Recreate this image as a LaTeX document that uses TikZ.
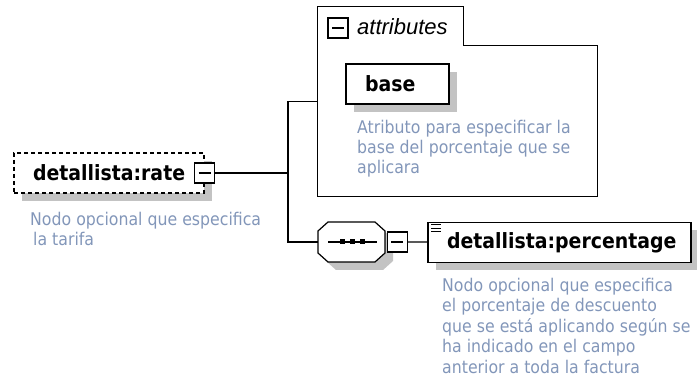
\documentclass[tikz,border=0pt]{standalone}
\usepackage{fontspec}
\newfontfamily\lblfont{DejaVu Sans}[FakeStretch=0.9]
\newfontfamily\descfont{DejaVu Sans}[FakeStretch=0.9]
\newfontfamily\attrfont{Liberation Sans}
\usetikzlibrary{positioning, shadows}
\definecolor{descblue}{RGB}{130,150,185}
\definecolor{shadowgray}{RGB}{195,195,195}

\begin{document}
\begin{tikzpicture}[x=1pt, y=-1pt,
  elbox/.style={rectangle, draw=black, line width=1.2pt, fill=white,
    minimum height=40pt, inner xsep=19pt, inner ysep=0pt, align=left,
    font=\lblfont\bfseries\fontsize{21}{25}\selectfont,
    drop shadow={shadow xshift=8pt, shadow yshift=-8pt, fill=shadowgray, opacity=1}},
  optbox/.style={elbox, dash pattern=on 4pt off 3pt},
  ctlbox/.style={rectangle, draw=black, line width=1.1pt, fill=white,
    minimum size=20pt, inner sep=0pt, outer sep=0pt,
    path picture={\draw[line width=1.1pt] ([xshift=4pt]path picture bounding box.west)
      -- ([xshift=-4pt]path picture bounding box.east);}},
  desc/.style={anchor=north west, inner sep=0pt, align=left, text=descblue,
    font=\descfont\fontsize{17.5}{20}\selectfont},
  wire/.style={line width=1.2pt}
]
  \useasboundingbox (0,0) rectangle (697,385);

  % attributes group
  \node[minimum width=279pt, minimum height=189pt, inner sep=0pt] (attrs) at (457.5,101.5) {};
  \draw[wire] (attrs.north west) -- ([xshift=146pt]attrs.north west)
    -- ([xshift=146pt, yshift=-39pt]attrs.north west) -| (attrs.south east)
    -- (attrs.south west) -- cycle;
  \node[ctlbox] (attrctl) at (338,28) {};
  \node[anchor=base west, inner sep=0pt, font=\attrfont\itshape\fontsize{22}{26}\selectfont]
    (attrlbl) at (357,35) {attributes};
  \node[elbox, text width=65pt] (base) at (397.5,84) {base};
  \node[desc] (basedesc) at (357,120) {Atributo para especificar la\\base del porcentaje que se\\aplicara};

  % root element
  \node[optbox, text width=152pt] (rate) at (109,173) {detallista:rate};
  \node[ctlbox] (ratectl) at (rate.east) {};
  \node[desc] (ratedesc) at (30,212) {Nodo opcional que especifica\\\hspace*{3pt}la tarifa};

  % sequence
  \fill[shadowgray, shift={(8,8)}] (328,222) -- (375,222) -- (385,231) -- (385,253)
    -- (375,262) -- (328,262) -- (318,253) -- (318,231) -- cycle;
  \draw[wire, fill=white] (328,222) -- (375,222) -- (385,231) -- (385,253)
    -- (375,262) -- (328,262) -- (318,253) -- (318,231) -- cycle;
  \node[minimum width=67pt, minimum height=40pt, inner sep=0pt] (seq) at (351.5,242) {};
  \draw[wire] (328,242) -- (377,242);
  \foreach \x in {342,352,362}
    \fill (\x-2.5,239.5) rectangle (\x+2.5,244.5);
  \node[ctlbox, right=2pt of seq] (seqctl) {};

  % child element
  \node[elbox, text width=225pt] (pct) at (559.5,242.5) {detallista:percentage};
  \foreach \dy in {3,6.5,10}
    \draw[line width=1pt] ([xshift=4pt, yshift=-\dy pt]pct.north west) -- ++(10,0);
  \node[desc, font=\descfont\fontsize{17.5}{20.5}\selectfont] (pctdesc) at (442,278)
    {Nodo opcional que especifica\\el porcentaje de descuento\\que se está aplicando según se\\ha indicado en el campo\\anterior a toda la factura};

  % connectors
  \coordinate (fork) at (288,173);
  \draw[wire] (ratectl.east) -- (fork);
  \draw[wire] (attrs.west) -| (fork) |- (seq.west);
  \draw[wire] (seqctl) -- (pct);
\end{tikzpicture}
\end{document}
